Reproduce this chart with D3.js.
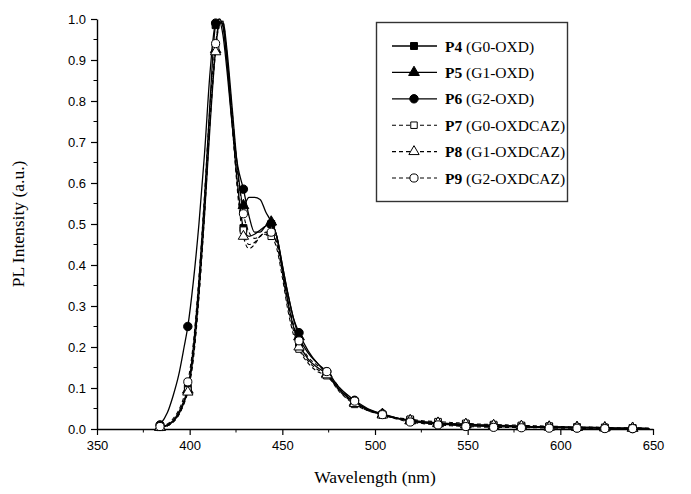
<!DOCTYPE html>
<html>
<head>
<meta charset="utf-8">
<script src="https://cdn.jsdelivr.net/npm/d3@7"></script>
<style>
body { margin: 0; background: #fff; }
svg { display: block; }
</style>
</head>
<body>
<svg></svg>
<script>
// wavelength grid (nm) of the spectra
var wl = [384, 388, 391, 394, 397, 399, 402, 405, 408, 411, 414, 416, 418, 420, 423, 426, 429, 432, 435, 438,
  441, 444, 447, 450, 453, 456, 459, 464, 469, 474, 481, 489, 496, 504, 511, 519, 526, 534, 541, 549,
  556, 564, 571, 579, 586, 594, 601, 609, 616, 624, 631, 639, 648];

// wavelengths carrying a marker
var markWl = [384, 399, 414, 429, 444, 459, 474, 489, 504, 519, 534, 549, 564, 579, 594, 609, 624, 639];

var p4 = [0.005, 0.01, 0.02, 0.04, 0.07, 0.10, 0.20, 0.36, 0.56, 0.80, 0.985, 1.0, 0.98, 0.90, 0.74, 0.59, 0.49, 0.47, 0.475, 0.485,
  0.495, 0.50, 0.47, 0.39, 0.31, 0.25, 0.21, 0.17, 0.15, 0.135, 0.095, 0.065, 0.047, 0.035, 0.027, 0.022, 0.018, 0.015, 0.013, 0.012,
  0.01, 0.009, 0.008, 0.007, 0.006, 0.006, 0.005, 0.004, 0.004, 0.003, 0.002, 0.002, 0.001];
var p5 = [0.004, 0.008, 0.018, 0.035, 0.065, 0.095, 0.18, 0.33, 0.52, 0.74, 0.925, 0.99, 0.995, 0.93, 0.78, 0.63, 0.545, 0.565, 0.565, 0.56,
  0.53, 0.505, 0.47, 0.40, 0.33, 0.27, 0.225, 0.185, 0.16, 0.135, 0.095, 0.065, 0.048, 0.036, 0.027, 0.02, 0.016, 0.013, 0.011, 0.01,
  0.009, 0.008, 0.007, 0.006, 0.005, 0.005, 0.004, 0.004, 0.003, 0.003, 0.002, 0.002, 0.001];
var p6 = [0.01, 0.04, 0.08, 0.13, 0.20, 0.25, 0.36, 0.50, 0.67, 0.87, 0.99, 0.995, 0.96, 0.88, 0.74, 0.64, 0.585, 0.52, 0.48, 0.48,
  0.495, 0.50, 0.47, 0.40, 0.33, 0.27, 0.235, 0.19, 0.16, 0.14, 0.10, 0.07, 0.05, 0.037, 0.028, 0.02, 0.015, 0.012, 0.01, 0.008,
  0.007, 0.006, 0.005, 0.005, 0.004, 0.004, 0.003, 0.003, 0.002, 0.002, 0.001, 0.001, 0.001];
var p7 = [0.004, 0.008, 0.018, 0.035, 0.065, 0.095, 0.18, 0.33, 0.53, 0.76, 0.93, 0.99, 0.99, 0.91, 0.74, 0.58, 0.485, 0.45, 0.455, 0.47,
  0.475, 0.47, 0.44, 0.37, 0.29, 0.23, 0.195, 0.16, 0.14, 0.13, 0.09, 0.06, 0.045, 0.035, 0.028, 0.024, 0.02, 0.018, 0.016, 0.014,
  0.012, 0.011, 0.01, 0.009, 0.008, 0.007, 0.006, 0.005, 0.005, 0.004, 0.003, 0.003, 0.002];
var p8 = [0.004, 0.008, 0.016, 0.033, 0.062, 0.09, 0.17, 0.32, 0.52, 0.75, 0.92, 0.985, 0.99, 0.92, 0.75, 0.57, 0.47, 0.44, 0.45, 0.47,
  0.48, 0.48, 0.45, 0.38, 0.30, 0.24, 0.20, 0.165, 0.145, 0.132, 0.092, 0.062, 0.045, 0.034, 0.026, 0.021, 0.017, 0.015, 0.013, 0.012,
  0.01, 0.009, 0.008, 0.007, 0.006, 0.005, 0.005, 0.004, 0.004, 0.003, 0.002, 0.002, 0.001];
var p9 = [0.006, 0.012, 0.025, 0.045, 0.08, 0.115, 0.21, 0.37, 0.57, 0.79, 0.94, 0.99, 0.985, 0.91, 0.77, 0.62, 0.525, 0.48, 0.465, 0.47,
  0.48, 0.48, 0.455, 0.39, 0.315, 0.255, 0.215, 0.175, 0.155, 0.14, 0.10, 0.068, 0.048, 0.035, 0.025, 0.017, 0.013, 0.01, 0.008, 0.006,
  0.005, 0.004, 0.004, 0.003, 0.003, 0.002, 0.002, 0.002, 0.001, 0.001, 0.001, 0.001, 0.001];

var names = ["P4", "P5", "P6", "P7", "P8", "P9"];
var labels = ["(G0-OXD)", "(G1-OXD)", "(G2-OXD)", "(G0-OXDCAZ)", "(G1-OXDCAZ)", "(G2-OXDCAZ)"];
var xTicks = [350, 400, 450, 500, 550, 600, 650];
var yTicks = [0, 0.1, 0.2, 0.3, 0.4, 0.5, 0.6, 0.7, 0.8, 0.9, 1.0];

var series = [
  {name: names[0], label: labels[0], values: p4, shape: d3.symbolSquare, open: false, dash: null},
  {name: names[1], label: labels[1], values: p5, shape: d3.symbolTriangle, open: false, dash: null},
  {name: names[2], label: labels[2], values: p6, shape: d3.symbolCircle, open: false, dash: null},
  {name: names[3], label: labels[3], values: p7, shape: d3.symbolSquare, open: true, dash: "4,3"},
  {name: names[4], label: labels[4], values: p8, shape: d3.symbolTriangle, open: true, dash: "4,3"},
  {name: names[5], label: labels[5], values: p9, shape: d3.symbolCircle, open: true, dash: "4,3"}
];

var screen = {width: 691, height: 494};
var margin = {left: 97, right: 38, top: 19, bottom: 65};
var serif = "'Liberation Serif', 'Times New Roman', serif";
var sans = "'Liberation Sans', Arial, sans-serif";

var svg = d3.select("svg")
  .attr("width", screen.width)
  .attr("height", screen.height);

var xScale = d3.scaleLinear()
  .domain([350, 650])
  .range([margin.left, screen.width - margin.right]);

var yScale = d3.scaleLinear()
  .domain([0, 1])
  .range([screen.height - margin.bottom, margin.top]);

var symSize = function(s){
  if (s.shape === d3.symbolTriangle) return s.open ? 46 : 50;
  if (s.shape === d3.symbolSquare) return s.open ? 42 : 48;
  return s.open ? 52 : 56;
};

// axes with minor ticks
var drawAxes = function(){
  var xMinor = d3.range(375, 650, 50);
  var yMinor = d3.range(0.05, 1.0, 0.1);

  var xAxis = svg.append("g")
    .attr("transform", "translate(0," + yScale(0) + ")")
    .call(d3.axisBottom(xScale).tickValues(xTicks).tickSize(6).tickSizeOuter(0).tickPadding(6));
  xAxis.selectAll("line.minor")
    .data(xMinor)
    .enter()
    .append("line")
    .attr("class", "minor")
    .attr("x1", function(d){ return xScale(d); })
    .attr("x2", function(d){ return xScale(d); })
    .attr("y1", 0).attr("y2", 3.5)
    .attr("stroke", "#000");

  var yAxis = svg.append("g")
    .attr("transform", "translate(" + xScale(350) + ",0)")
    .call(d3.axisLeft(yScale).tickValues(yTicks).tickFormat(d3.format(".1f")).tickSize(6).tickSizeOuter(0).tickPadding(5));
  yAxis.selectAll("line.minor")
    .data(yMinor)
    .enter()
    .append("line")
    .attr("class", "minor")
    .attr("y1", function(d){ return yScale(d); })
    .attr("y2", function(d){ return yScale(d); })
    .attr("x1", 0).attr("x2", -3.5)
    .attr("stroke", "#000");

  svg.selectAll(".domain").attr("stroke-width", 1.4);
  svg.selectAll(".tick line").attr("stroke-width", 1.2);
  svg.selectAll(".tick text")
    .attr("font-family", sans)
    .attr("font-size", 13)
    .attr("fill", "#000");

  svg.append("text")
    .attr("x", (xScale(350) + xScale(650)) / 2)
    .attr("y", 483)
    .attr("text-anchor", "middle")
    .attr("font-family", serif)
    .attr("font-size", 17.5)
    .text("Wavelength (nm)");

  svg.append("text")
    .attr("transform", "translate(24," + yScale(0.5) + ") rotate(-90)")
    .attr("text-anchor", "middle")
    .attr("font-family", serif)
    .attr("font-size", 17.5)
    .text("PL Intensity (a.u.)");
};

var drawPlot = function(){
  var line = d3.line()
    .x(function(d){ return xScale(d[0]); })
    .y(function(d){ return yScale(d[1]); })
    .curve(d3.curveMonotoneX);

  series.forEach(function(s){
    var pts = wl.map(function(w, i){ return [w, s.values[i]]; });
    svg.append("path")
      .datum(pts)
      .attr("d", line)
      .attr("fill", "none")
      .attr("stroke", "#000")
      .attr("stroke-width", s.open ? 1.1 : 1.3)
      .attr("stroke-dasharray", s.dash);
  });

  series.forEach(function(s){
    var pts = markWl.map(function(w){ return [w, s.values[wl.indexOf(w)]]; });
    svg.append("g")
      .selectAll("path")
      .data(pts)
      .enter()
      .append("path")
      .attr("transform", function(d){ return "translate(" + xScale(d[0]) + "," + yScale(d[1]) + ")"; })
      .attr("d", d3.symbol().type(s.shape).size(symSize(s)))
      .attr("fill", s.open ? "#fff" : "#000")
      .attr("stroke", "#000")
      .attr("stroke-width", 1);
  });
};

var drawLegend = function(){
  var lg = svg.append("g");
  lg.append("rect")
    .attr("x", 376.5).attr("y", 22.5)
    .attr("width", 191).attr("height", 179)
    .attr("fill", "#fff")
    .attr("stroke", "#333")
    .attr("stroke-width", 1.4);

  series.forEach(function(s, i){
    var y = 46 + i * 26.4;
    lg.append("line")
      .attr("x1", 392).attr("x2", 437)
      .attr("y1", y).attr("y2", y)
      .attr("stroke", "#000")
      .attr("stroke-width", s.open ? 1.1 : 1.3)
      .attr("stroke-dasharray", s.dash);
    lg.append("path")
      .attr("transform", "translate(414," + y + ")")
      .attr("d", d3.symbol().type(s.shape).size(symSize(s)))
      .attr("fill", s.open ? "#fff" : "#000")
      .attr("stroke", "#000");
    var t = lg.append("text")
      .attr("x", 445)
      .attr("y", y + 5.5)
      .attr("font-family", serif)
      .attr("font-size", 15.5);
    t.append("tspan").attr("font-weight", "bold").text(s.name);
    t.append("tspan").text(" " + s.label);
  });
};

drawAxes();
drawPlot();
drawLegend();
</script>
</body>
</html>
